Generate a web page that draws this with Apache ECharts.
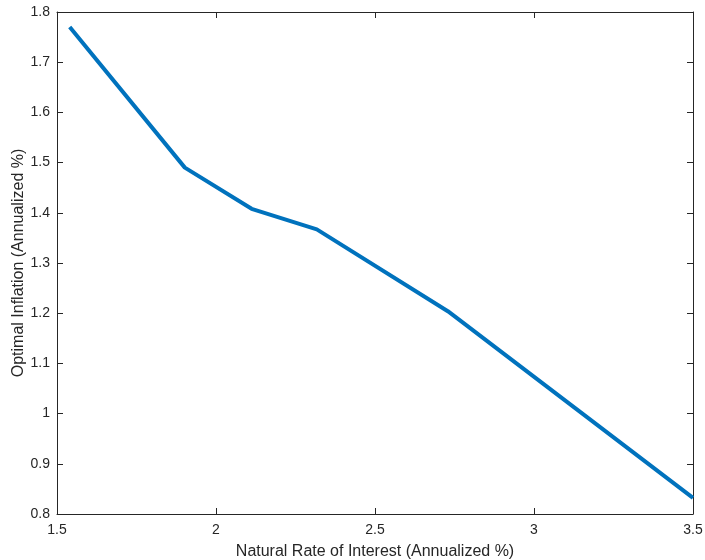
<!DOCTYPE html>
<html>
<head>
<meta charset="utf-8">
<script src="https://cdn.jsdelivr.net/npm/echarts@6/dist/echarts.min.js"></script>
<style>html,body{margin:0;padding:0;background:#fff}#c{width:705px;height:560px}</style>
</head>
<body>
<div id="c"></div>
<script>
const naturalRate = [1.54, 1.902, 2.112, 2.317, 2.729, 3.5];
const optimalInflation = [1.770, 1.490, 1.408, 1.367, 1.204, 0.832];
const xTicks = ['1.5', '2', '2.5', '3', '3.5'];
const yTicks = ['0.8', '0.9', '1', '1.1', '1.2', '1.3', '1.4', '1.5', '1.6', '1.7', '1.8'];
const xTitle = 'Natural Rate of Interest (Annualized %)';
const yTitle = 'Optimal Inflation (Annualized %)';

const axisColor = '#262626';
const font = 'Liberation Sans, Arial, Helvetica, sans-serif';
const chart = echarts.init(document.getElementById('c'));
const common = {
  axisLine: {show: true, onZero: false, lineStyle: {color: axisColor, width: 1}},
  axisTick: {show: true, inside: true, length: 6, lineStyle: {color: axisColor}},
  splitLine: {show: false}
};
chart.setOption({
  animation: false,
  backgroundColor: '#fff',
  grid: {left: 57, right: 12, top: 12, bottom: 46, containLabel: false, outerBoundsMode: 'none'},
  xAxis: [
    Object.assign({
      type: 'value', min: 1.5, max: 3.5, interval: 0.5, position: 'bottom',
      name: xTitle, nameLocation: 'middle', nameGap: 30, nameMoveOverlap: false,
      nameTextStyle: {fontFamily: font, fontSize: 16, color: axisColor},
      axisLabel: {fontFamily: font, fontSize: 14, color: axisColor, margin: 9,
        formatter: v => xTicks.find(t => Math.abs(parseFloat(t) - v) < 1e-6) || ''}
    }, common),
    Object.assign({
      type: 'value', min: 1.5, max: 3.5, interval: 0.5, position: 'top',
      axisLabel: {show: false}
    }, common)
  ],
  yAxis: [
    Object.assign({
      type: 'value', min: 0.8, max: 1.8, interval: 0.1, position: 'left',
      name: yTitle, nameLocation: 'middle', nameGap: 30, nameMoveOverlap: false,
      nameTextStyle: {fontFamily: font, fontSize: 16, color: axisColor},
      axisLabel: {fontFamily: font, fontSize: 14, color: axisColor, margin: 7,
        formatter: v => yTicks.find(t => Math.abs(parseFloat(t) - v) < 1e-6) || ''}
    }, common),
    Object.assign({
      type: 'value', min: 0.8, max: 1.8, interval: 0.1, position: 'right',
      axisLabel: {show: false}
    }, common)
  ],
  series: [{
    type: 'line',
    data: naturalRate.map((x, i) => [x, optimalInflation[i]]),
    showSymbol: false,
    lineStyle: {color: '#0072BD', width: 4},
    itemStyle: {color: '#0072BD'}
  }]
});
</script>
</body>
</html>
